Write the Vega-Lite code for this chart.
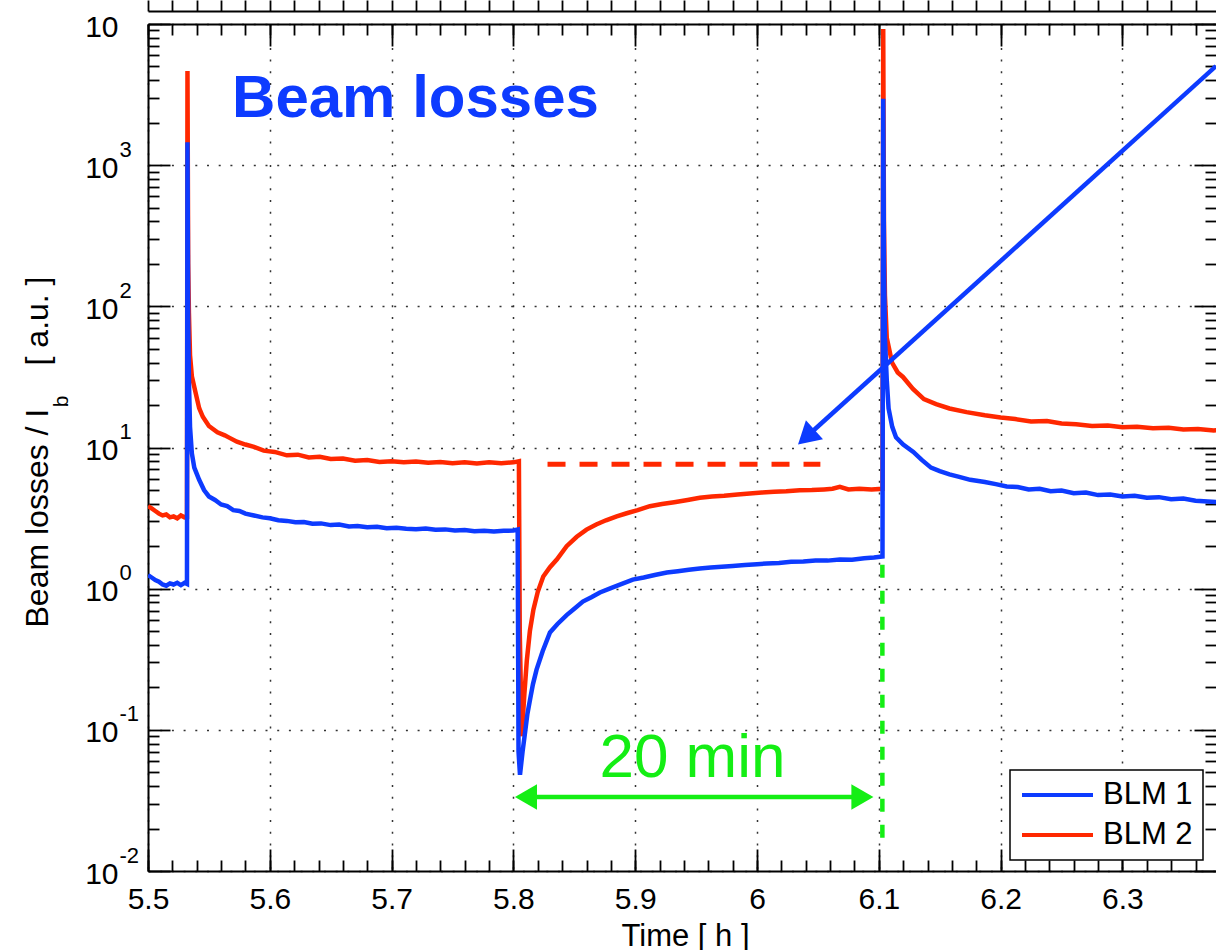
{
  "$schema": "https://vega.github.io/schema/vega-lite/v6.json",
  "width": 1068,
  "height": 847,
  "autosize": {"type": "none"},
  "padding": {"left": 148, "top": 24, "right": 0, "bottom": 79},
  "background": "white",
  "config": {
    "view": {"stroke": null},
    "font": "Liberation Sans",
    "axis": {
      "domainColor": "black", "domainWidth": 2, "tickColor": "black", "tickWidth": 1.8,
      "labelColor": "black", "labelFont": "Liberation Sans", "labelFontSize": 30,
      "labelFlush": false, "labelOverlap": false, "labelBound": false,
      "gridColor": "#333333", "gridDash": [2, 9.7], "gridWidth": 1.5, "gridOpacity": 1,
      "titleColor": "black", "titleFont": "Liberation Sans", "titleFontWeight": "normal", "titleFontSize": 31
    },
    "legend": {
      "orient": "none", "legendX": 862, "legendY": 746, "padding": 10,
      "strokeColor": "black", "strokeWidth": 1.5, "fillColor": "white", "cornerRadius": 0,
      "labelFont": "Liberation Sans", "labelFontSize": 31, "labelColor": "black", "labelOffset": 8,
      "symbolType": "stroke", "symbolSize": 5041, "symbolStrokeWidth": 4, "rowPadding": 9, "clipHeight": 30
    }
  },
  "resolve": {"axis": {"x": "independent", "y": "independent"}},
  "datasets": {
    "blm": [
      {"s":"BLM 1","t":5.500,"v":1.25},{"s":"BLM 1","t":5.503,"v":1.20},{"s":"BLM 1","t":5.506,"v":1.15},{"s":"BLM 1","t":5.509,"v":1.12},
      {"s":"BLM 1","t":5.512,"v":1.07},{"s":"BLM 1","t":5.515,"v":1.05},{"s":"BLM 1","t":5.518,"v":1.09},{"s":"BLM 1","t":5.521,"v":1.07},
      {"s":"BLM 1","t":5.524,"v":1.10},{"s":"BLM 1","t":5.527,"v":1.06},{"s":"BLM 1","t":5.530,"v":1.10},{"s":"BLM 1","t":5.5320,"v":1.08},
      {"s":"BLM 1","t":5.5324,"v":1455},{"s":"BLM 1","t":5.5330,"v":80},{"s":"BLM 1","t":5.5336,"v":30},{"s":"BLM 1","t":5.5345,"v":14},
      {"s":"BLM 1","t":5.536,"v":9.1},{"s":"BLM 1","t":5.538,"v":7.2},{"s":"BLM 1","t":5.542,"v":5.9},{"s":"BLM 1","t":5.546,"v":5.0},
      {"s":"BLM 1","t":5.550,"v":4.5},{"s":"BLM 1","t":5.555,"v":4.25},{"s":"BLM 1","t":5.560,"v":3.95},{"s":"BLM 1","t":5.565,"v":3.85},
      {"s":"BLM 1","t":5.570,"v":3.6},{"s":"BLM 1","t":5.575,"v":3.55},{"s":"BLM 1","t":5.580,"v":3.4},{"s":"BLM 1","t":5.587,"v":3.3},
      {"s":"BLM 1","t":5.594,"v":3.2},{"s":"BLM 1","t":5.600,"v":3.15},{"s":"BLM 1","t":5.607,"v":3.05},{"s":"BLM 1","t":5.614,"v":3.02},
      {"s":"BLM 1","t":5.621,"v":2.95},{"s":"BLM 1","t":5.628,"v":2.97},{"s":"BLM 1","t":5.635,"v":2.88},{"s":"BLM 1","t":5.642,"v":2.9},
      {"s":"BLM 1","t":5.650,"v":2.82},{"s":"BLM 1","t":5.657,"v":2.85},{"s":"BLM 1","t":5.665,"v":2.76},{"s":"BLM 1","t":5.672,"v":2.78},
      {"s":"BLM 1","t":5.680,"v":2.72},{"s":"BLM 1","t":5.688,"v":2.74},{"s":"BLM 1","t":5.696,"v":2.68},{"s":"BLM 1","t":5.704,"v":2.7},
      {"s":"BLM 1","t":5.712,"v":2.66},{"s":"BLM 1","t":5.720,"v":2.64},{"s":"BLM 1","t":5.728,"v":2.67},{"s":"BLM 1","t":5.736,"v":2.61},
      {"s":"BLM 1","t":5.744,"v":2.63},{"s":"BLM 1","t":5.752,"v":2.58},{"s":"BLM 1","t":5.760,"v":2.6},{"s":"BLM 1","t":5.768,"v":2.55},
      {"s":"BLM 1","t":5.776,"v":2.57},{"s":"BLM 1","t":5.784,"v":2.54},{"s":"BLM 1","t":5.792,"v":2.57},{"s":"BLM 1","t":5.800,"v":2.58},
      {"s":"BLM 1","t":5.8035,"v":2.62},{"s":"BLM 1","t":5.8042,"v":0.07},{"s":"BLM 1","t":5.8054,"v":0.048},{"s":"BLM 1","t":5.8075,"v":0.07},
      {"s":"BLM 1","t":5.8095,"v":0.095},{"s":"BLM 1","t":5.8115,"v":0.13},{"s":"BLM 1","t":5.8136,"v":0.163},{"s":"BLM 1","t":5.816,"v":0.21},
      {"s":"BLM 1","t":5.819,"v":0.267},{"s":"BLM 1","t":5.824,"v":0.36},{"s":"BLM 1","t":5.830,"v":0.49},{"s":"BLM 1","t":5.836,"v":0.56},
      {"s":"BLM 1","t":5.8437,"v":0.65},{"s":"BLM 1","t":5.850,"v":0.72},{"s":"BLM 1","t":5.857,"v":0.81},{"s":"BLM 1","t":5.864,"v":0.87},
      {"s":"BLM 1","t":5.871,"v":0.94},{"s":"BLM 1","t":5.880,"v":1.01},{"s":"BLM 1","t":5.889,"v":1.08},{"s":"BLM 1","t":5.898,"v":1.16},
      {"s":"BLM 1","t":5.907,"v":1.2},{"s":"BLM 1","t":5.916,"v":1.25},{"s":"BLM 1","t":5.926,"v":1.30},{"s":"BLM 1","t":5.935,"v":1.33},
      {"s":"BLM 1","t":5.944,"v":1.36},{"s":"BLM 1","t":5.953,"v":1.39},{"s":"BLM 1","t":5.962,"v":1.41},{"s":"BLM 1","t":5.971,"v":1.43},
      {"s":"BLM 1","t":5.980,"v":1.45},{"s":"BLM 1","t":5.990,"v":1.47},{"s":"BLM 1","t":6.000,"v":1.49},{"s":"BLM 1","t":6.008,"v":1.51},
      {"s":"BLM 1","t":6.018,"v":1.52},{"s":"BLM 1","t":6.028,"v":1.55},{"s":"BLM 1","t":6.038,"v":1.56},{"s":"BLM 1","t":6.048,"v":1.58},
      {"s":"BLM 1","t":6.058,"v":1.58},{"s":"BLM 1","t":6.068,"v":1.61},{"s":"BLM 1","t":6.078,"v":1.6},{"s":"BLM 1","t":6.088,"v":1.64},
      {"s":"BLM 1","t":6.096,"v":1.66},{"s":"BLM 1","t":6.1030,"v":1.69},{"s":"BLM 1","t":6.1036,"v":2960},{"s":"BLM 1","t":6.1042,"v":200},
      {"s":"BLM 1","t":6.105,"v":60},{"s":"BLM 1","t":6.1065,"v":30},{"s":"BLM 1","t":6.108,"v":18.9},{"s":"BLM 1","t":6.111,"v":14},
      {"s":"BLM 1","t":6.1141,"v":11.8},{"s":"BLM 1","t":6.120,"v":10.5},{"s":"BLM 1","t":6.1283,"v":9.3},{"s":"BLM 1","t":6.135,"v":8.2},
      {"s":"BLM 1","t":6.1428,"v":7.2},{"s":"BLM 1","t":6.150,"v":6.8},{"s":"BLM 1","t":6.158,"v":6.45},{"s":"BLM 1","t":6.166,"v":6.2},
      {"s":"BLM 1","t":6.175,"v":5.9},{"s":"BLM 1","t":6.187,"v":5.7},{"s":"BLM 1","t":6.196,"v":5.5},{"s":"BLM 1","t":6.205,"v":5.3},
      {"s":"BLM 1","t":6.214,"v":5.25},{"s":"BLM 1","t":6.223,"v":5.05},{"s":"BLM 1","t":6.232,"v":5.1},{"s":"BLM 1","t":6.241,"v":4.9},
      {"s":"BLM 1","t":6.250,"v":4.95},{"s":"BLM 1","t":6.260,"v":4.75},{"s":"BLM 1","t":6.270,"v":4.8},{"s":"BLM 1","t":6.280,"v":4.6},
      {"s":"BLM 1","t":6.290,"v":4.65},{"s":"BLM 1","t":6.300,"v":4.5},{"s":"BLM 1","t":6.310,"v":4.55},{"s":"BLM 1","t":6.320,"v":4.4},
      {"s":"BLM 1","t":6.330,"v":4.45},{"s":"BLM 1","t":6.340,"v":4.3},{"s":"BLM 1","t":6.350,"v":4.35},{"s":"BLM 1","t":6.360,"v":4.2},
      {"s":"BLM 1","t":6.370,"v":4.15},{"s":"BLM 1","t":6.380,"v":4.1},

      {"s":"BLM 2","t":5.500,"v":3.85},{"s":"BLM 2","t":5.503,"v":3.7},{"s":"BLM 2","t":5.506,"v":3.55},{"s":"BLM 2","t":5.509,"v":3.4},
      {"s":"BLM 2","t":5.512,"v":3.3},{"s":"BLM 2","t":5.515,"v":3.35},{"s":"BLM 2","t":5.518,"v":3.2},{"s":"BLM 2","t":5.521,"v":3.25},
      {"s":"BLM 2","t":5.524,"v":3.15},{"s":"BLM 2","t":5.527,"v":3.3},{"s":"BLM 2","t":5.530,"v":3.2},{"s":"BLM 2","t":5.5320,"v":3.22},
      {"s":"BLM 2","t":5.5324,"v":4650},{"s":"BLM 2","t":5.5330,"v":200},{"s":"BLM 2","t":5.5336,"v":90},{"s":"BLM 2","t":5.5345,"v":45},
      {"s":"BLM 2","t":5.536,"v":32},{"s":"BLM 2","t":5.5388,"v":25},{"s":"BLM 2","t":5.542,"v":19},{"s":"BLM 2","t":5.545,"v":16.5},
      {"s":"BLM 2","t":5.550,"v":14.2},{"s":"BLM 2","t":5.557,"v":12.8},{"s":"BLM 2","t":5.563,"v":12.2},{"s":"BLM 2","t":5.567,"v":11.7},
      {"s":"BLM 2","t":5.573,"v":11.0},{"s":"BLM 2","t":5.580,"v":10.5},{"s":"BLM 2","t":5.587,"v":10.1},{"s":"BLM 2","t":5.595,"v":9.5},
      {"s":"BLM 2","t":5.604,"v":9.3},{"s":"BLM 2","t":5.614,"v":8.8},{"s":"BLM 2","t":5.623,"v":8.9},{"s":"BLM 2","t":5.632,"v":8.5},
      {"s":"BLM 2","t":5.641,"v":8.6},{"s":"BLM 2","t":5.650,"v":8.3},{"s":"BLM 2","t":5.660,"v":8.35},{"s":"BLM 2","t":5.670,"v":8.05},
      {"s":"BLM 2","t":5.680,"v":8.15},{"s":"BLM 2","t":5.690,"v":7.9},{"s":"BLM 2","t":5.700,"v":8.0},{"s":"BLM 2","t":5.710,"v":7.85},
      {"s":"BLM 2","t":5.720,"v":7.95},{"s":"BLM 2","t":5.730,"v":7.8},{"s":"BLM 2","t":5.740,"v":7.9},{"s":"BLM 2","t":5.750,"v":7.75},
      {"s":"BLM 2","t":5.760,"v":7.85},{"s":"BLM 2","t":5.770,"v":7.7},{"s":"BLM 2","t":5.780,"v":7.85},{"s":"BLM 2","t":5.790,"v":7.75},
      {"s":"BLM 2","t":5.800,"v":7.85},{"s":"BLM 2","t":5.8045,"v":8.0},{"s":"BLM 2","t":5.8052,"v":0.5},{"s":"BLM 2","t":5.8068,"v":0.09},
      {"s":"BLM 2","t":5.809,"v":0.18},{"s":"BLM 2","t":5.811,"v":0.31},{"s":"BLM 2","t":5.8135,"v":0.5},{"s":"BLM 2","t":5.8164,"v":0.71},
      {"s":"BLM 2","t":5.820,"v":0.95},{"s":"BLM 2","t":5.8245,"v":1.22},{"s":"BLM 2","t":5.830,"v":1.42},{"s":"BLM 2","t":5.8356,"v":1.61},
      {"s":"BLM 2","t":5.8437,"v":2.0},{"s":"BLM 2","t":5.852,"v":2.33},{"s":"BLM 2","t":5.860,"v":2.62},{"s":"BLM 2","t":5.868,"v":2.85},
      {"s":"BLM 2","t":5.876,"v":3.05},{"s":"BLM 2","t":5.8848,"v":3.25},{"s":"BLM 2","t":5.893,"v":3.42},{"s":"BLM 2","t":5.902,"v":3.6},
      {"s":"BLM 2","t":5.912,"v":3.84},{"s":"BLM 2","t":5.922,"v":3.98},{"s":"BLM 2","t":5.932,"v":4.1},{"s":"BLM 2","t":5.943,"v":4.25},
      {"s":"BLM 2","t":5.953,"v":4.40},{"s":"BLM 2","t":5.963,"v":4.5},{"s":"BLM 2","t":5.973,"v":4.55},{"s":"BLM 2","t":5.984,"v":4.65},
      {"s":"BLM 2","t":5.994,"v":4.72},{"s":"BLM 2","t":6.004,"v":4.8},{"s":"BLM 2","t":6.014,"v":4.85},{"s":"BLM 2","t":6.024,"v":4.9},
      {"s":"BLM 2","t":6.035,"v":4.98},{"s":"BLM 2","t":6.045,"v":5.0},{"s":"BLM 2","t":6.055,"v":5.05},{"s":"BLM 2","t":6.062,"v":5.1},
      {"s":"BLM 2","t":6.068,"v":5.26},{"s":"BLM 2","t":6.075,"v":5.05},{"s":"BLM 2","t":6.084,"v":5.1},{"s":"BLM 2","t":6.094,"v":5.05},
      {"s":"BLM 2","t":6.1030,"v":5.1},{"s":"BLM 2","t":6.1036,"v":9200},{"s":"BLM 2","t":6.1042,"v":400},{"s":"BLM 2","t":6.105,"v":120},
      {"s":"BLM 2","t":6.1065,"v":60},{"s":"BLM 2","t":6.1108,"v":40},{"s":"BLM 2","t":6.1155,"v":34},{"s":"BLM 2","t":6.1198,"v":31.6},
      {"s":"BLM 2","t":6.128,"v":26},{"s":"BLM 2","t":6.137,"v":22},{"s":"BLM 2","t":6.147,"v":20.3},{"s":"BLM 2","t":6.158,"v":18.9},
      {"s":"BLM 2","t":6.172,"v":17.8},{"s":"BLM 2","t":6.187,"v":16.9},{"s":"BLM 2","t":6.200,"v":16.3},{"s":"BLM 2","t":6.212,"v":15.9},
      {"s":"BLM 2","t":6.225,"v":15.3},{"s":"BLM 2","t":6.238,"v":15.4},{"s":"BLM 2","t":6.250,"v":14.8},{"s":"BLM 2","t":6.262,"v":14.6},
      {"s":"BLM 2","t":6.275,"v":14.2},{"s":"BLM 2","t":6.288,"v":14.3},{"s":"BLM 2","t":6.300,"v":13.9},{"s":"BLM 2","t":6.312,"v":14.0},
      {"s":"BLM 2","t":6.325,"v":13.7},{"s":"BLM 2","t":6.338,"v":13.8},{"s":"BLM 2","t":6.350,"v":13.4},{"s":"BLM 2","t":6.362,"v":13.5},
      {"s":"BLM 2","t":6.375,"v":13.2},{"s":"BLM 2","t":6.380,"v":13.3}
    ]
  },
  "layer": [
    {
      "data": {"name": "blm"},
      "transform": [{"filter": "datum.s === 'BLM 2'"}],
      "mark": {"type": "line", "strokeWidth": 4.5, "clip": true},
      "encoding": {
        "x": {"field": "t", "type": "quantitative", "scale": {"domain": [5.5, 6.3768], "nice": false, "zero": false},
          "axis": {"orient": "bottom", "values": [5.5,5.6,5.7,5.8,5.9,6,6.1,6.2,6.3], "ticks": false, "domain": true, "grid": true,
            "labelExpr": "'' + round(datum.value*10)/10", "labelPadding": 37, "labelBaseline": "alphabetic", "labelAlign": "center",
            "title": "Time [ h ]", "titleX": 537, "titleY": 74, "titleAlign": "center", "titleBaseline": "alphabetic", "titleAngle": 0}},
        "y": {"field": "v", "type": "quantitative", "scale": {"type": "log", "domain": [0.01, 10000], "nice": false},
          "axis": {"orient": "left", "values": [0.01,0.1,1,10,100,1000,10000], "ticks": false, "domain": true, "grid": true,
            "labelExpr": "'10'", "labelAlign": "right", "labelBaseline": "alphabetic", "labelOffset": 12, "labelPadding": 30,
            "title": "Beam losses / I", "titleFontSize": 32, "titleAngle": 270, "titleAlign": "left", "titleBaseline": "alphabetic", "titleX": -101, "titleY": 603}},
        "color": {"field": "s", "type": "nominal", "scale": {"domain": ["BLM 1", "BLM 2"], "range": ["#0d3bff", "#ff2800"]}, "legend": {"title": null}}
      }
    },
    {
      "data": {"name": "blm"},
      "transform": [{"filter": "datum.s === 'BLM 1'"}],
      "mark": {"type": "line", "strokeWidth": 4.5, "clip": true},
      "encoding": {
        "x": {"field": "t", "type": "quantitative", "scale": {"domain": [5.5, 6.3768], "nice": false, "zero": false},
          "axis": {"orient": "bottom", "offset": -22, "values": [5.5,5.6,5.7,5.8,5.9,6,6.1,6.2,6.3], "tickSize": 22, "labels": false, "domain": false, "grid": false, "title": null}},
        "y": {"field": "v", "type": "quantitative", "scale": {"type": "log", "domain": [0.01, 10000], "nice": false},
          "axis": {"orient": "left", "offset": -22, "values": [0.01,0.1,1,10,100,1000,10000], "tickSize": 22, "labels": false, "domain": false, "grid": false,
            "title": "[ a.u. ]", "titleFontSize": 32, "titleAngle": 270, "titleAlign": "right", "titleBaseline": "alphabetic", "titleX": -123, "titleY": 252}},
        "color": {"field": "s", "type": "nominal", "scale": {"domain": ["BLM 1", "BLM 2"], "range": ["#0d3bff", "#ff2800"]}, "legend": {"title": null}}
      }
    },
    {
      "data": {"values": [{"t": 5.828, "t2": 6.052, "v": 7.6}]},
      "mark": {"type": "rule", "color": "#ff2800", "strokeWidth": 5, "strokeDash": [18, 14]},
      "encoding": {
        "x": {"field": "t", "type": "quantitative", "scale": {"domain": [5.5, 6.3768], "nice": false, "zero": false},
          "axis": {"orient": "bottom", "offset": -11, "values": [5.5,5.52,5.54,5.56,5.58,5.6,5.62,5.64,5.66,5.68,5.7,5.72,5.74,5.76,5.78,5.8,5.82,5.84,5.86,5.88,5.9,5.92,5.94,5.96,5.98,6,6.02,6.04,6.06,6.08,6.1,6.12,6.14,6.16,6.18,6.2,6.22,6.24,6.26,6.28,6.3,6.32,6.34,6.36],
            "tickSize": 11, "labels": false, "domain": false, "grid": false, "title": null}},
        "x2": {"field": "t2"},
        "y": {"field": "v", "type": "quantitative", "scale": {"type": "log", "domain": [0.01, 10000], "nice": false},
          "axis": {"orient": "left", "offset": -11, "values": [0.02,0.03,0.04,0.05,0.06,0.07,0.08,0.09,0.2,0.3,0.4,0.5,0.6,0.7,0.8,0.9,2,3,4,5,6,7,8,9,20,30,40,50,60,70,80,90,200,300,400,500,600,700,800,900,2000,3000,4000,5000,6000,7000,8000,9000],
            "tickSize": 11, "labels": false, "domain": false, "grid": false, "title": null}}
      }
    },
    {
      "data": {"values": [{"t": 6.1029, "v": 1.48, "v2": 0.0166}]},
      "mark": {"type": "rule", "color": "#14ee14", "strokeWidth": 4.5, "strokeDash": [13, 13]},
      "encoding": {
        "x": {"field": "t", "type": "quantitative", "scale": {"domain": [5.5, 6.3768], "nice": false, "zero": false},
          "axis": {"orient": "top", "offset": -22, "values": [5.5,5.6,5.7,5.8,5.9,6,6.1,6.2,6.3], "tickSize": 22, "labels": false, "domain": false, "grid": false, "title": null}},
        "y": {"field": "v", "type": "quantitative", "scale": {"type": "log", "domain": [0.01, 10000], "nice": false},
          "axis": {"orient": "left", "values": [0.01,0.1,1,10,100,1000], "ticks": false, "domain": false, "grid": false,
            "labelExpr": "'' + round(log(datum.value)/LN10)", "labelAlign": "left", "labelBaseline": "alphabetic", "labelOffset": -9, "labelPadding": 29, "labelFontSize": 22,
            "title": "b", "titleFontSize": 21, "titleAngle": 270, "titleAlign": "center", "titleBaseline": "alphabetic", "titleX": -81, "titleY": 377}},
        "y2": {"field": "v2"}
      }
    },
    {
      "data": {"values": [{"t": 5.8103, "v": 0.0335}, {"t": 6.0865, "v": 0.0335}]},
      "mark": {"type": "line", "color": "#14ee14", "strokeWidth": 4.5},
      "encoding": {
        "x": {"field": "t", "type": "quantitative", "scale": {"domain": [5.5, 6.3768], "nice": false, "zero": false},
          "axis": {"orient": "top", "offset": -11, "values": [5.5,5.52,5.54,5.56,5.58,5.6,5.62,5.64,5.66,5.68,5.7,5.72,5.74,5.76,5.78,5.8,5.82,5.84,5.86,5.88,5.9,5.92,5.94,5.96,5.98,6,6.02,6.04,6.06,6.08,6.1,6.12,6.14,6.16,6.18,6.2,6.22,6.24,6.26,6.28,6.3,6.32,6.34,6.36],
            "tickSize": 11, "labels": false, "domain": false, "grid": false, "title": null}},
        "y": {"field": "v", "type": "quantitative", "scale": {"type": "log", "domain": [0.01, 10000], "nice": false},
          "axis": {"orient": "right", "offset": -22, "values": [0.01,0.1,1,10,100,1000,10000], "tickSize": 22, "labels": false, "domain": false, "grid": false, "title": null}}
      }
    },
    {
      "data": {"values": [{"t": 5.8103, "v": 0.0335, "d": "L"}, {"t": 6.0865, "v": 0.0335, "d": "R"}]},
      "mark": {"type": "point", "filled": true, "size": 650, "opacity": 1, "color": "#14ee14"},
      "encoding": {
        "x": {"field": "t", "type": "quantitative", "scale": {"domain": [5.5, 6.3768], "nice": false, "zero": false},
          "axis": {"orient": "top", "offset": 13, "values": [5.5,5.52,5.54,5.56,5.58,5.6,5.62,5.64,5.66,5.68,5.7,5.72,5.74,5.76,5.78,5.8,5.82,5.84,5.86,5.88,5.9,5.92,5.94,5.96,5.98,6,6.02,6.04,6.06,6.08,6.1,6.12,6.14,6.16,6.18,6.2,6.22,6.24,6.26,6.28,6.3,6.32,6.34,6.36],
            "tickSize": 11, "labels": false, "domain": true, "grid": false, "title": null}},
        "y": {"field": "v", "type": "quantitative", "scale": {"type": "log", "domain": [0.01, 10000], "nice": false},
          "axis": {"orient": "right", "offset": -11, "values": [0.02,0.03,0.04,0.05,0.06,0.07,0.08,0.09,0.2,0.3,0.4,0.5,0.6,0.7,0.8,0.9,2,3,4,5,6,7,8,9,20,30,40,50,60,70,80,90,200,300,400,500,600,700,800,900,2000,3000,4000,5000,6000,7000,8000,9000],
            "tickSize": 11, "labels": false, "domain": false, "grid": false, "title": null}},
        "shape": {"field": "d", "type": "nominal", "scale": {"domain": ["L", "R"], "range": ["triangle-left", "triangle-right"]}, "legend": null}
      }
    },
    {
      "data": {"values": [{"t": 6.3768, "v": 5035}, {"t": 6.0404, "v": 11.86}]},
      "mark": {"type": "line", "color": "#0d3bff", "strokeWidth": 4.5},
      "encoding": {
        "x": {"field": "t", "type": "quantitative", "scale": {"domain": [5.5, 6.3768], "nice": false, "zero": false},
          "axis": {"orient": "top", "values": [5.5, 6.3768], "ticks": false, "labels": false, "domain": true, "grid": false, "title": null}},
        "y": {"field": "v", "type": "quantitative", "scale": {"type": "log", "domain": [0.01, 10000], "nice": false}, "axis": null}
      }
    },
    {
      "data": {"values": [{"t": 6.0404, "v": 11.86}]},
      "mark": {"type": "point", "filled": true, "size": 650, "opacity": 1, "color": "#0d3bff", "shape": "triangle-up", "angle": 228},
      "encoding": {
        "x": {"field": "t", "type": "quantitative", "scale": {"domain": [5.5, 6.3768], "nice": false, "zero": false}, "axis": null},
        "y": {"field": "v", "type": "quantitative", "scale": {"type": "log", "domain": [0.01, 10000], "nice": false}, "axis": null}
      }
    },
    {
      "data": {"values": [{"t": 5.569, "v": 2190, "label": "Beam losses"}]},
      "mark": {"type": "text", "align": "left", "baseline": "alphabetic", "fontSize": 60, "fontWeight": "bold", "font": "Liberation Sans", "color": "#0d3bff"},
      "encoding": {
        "x": {"field": "t", "type": "quantitative", "scale": {"domain": [5.5, 6.3768], "nice": false, "zero": false}, "axis": null},
        "y": {"field": "v", "type": "quantitative", "scale": {"type": "log", "domain": [0.01, 10000], "nice": false}, "axis": null},
        "text": {"field": "label"}
      }
    },
    {
      "data": {"values": [{"t": 5.947, "v": 0.0464, "label": "20 min"}]},
      "mark": {"type": "text", "align": "center", "baseline": "alphabetic", "fontSize": 62, "font": "Liberation Sans", "color": "#14ee14"},
      "encoding": {
        "x": {"field": "t", "type": "quantitative", "scale": {"domain": [5.5, 6.3768], "nice": false, "zero": false}, "axis": null},
        "y": {"field": "v", "type": "quantitative", "scale": {"type": "log", "domain": [0.01, 10000], "nice": false}, "axis": null},
        "text": {"field": "label"}
      }
    }
  ]
}
